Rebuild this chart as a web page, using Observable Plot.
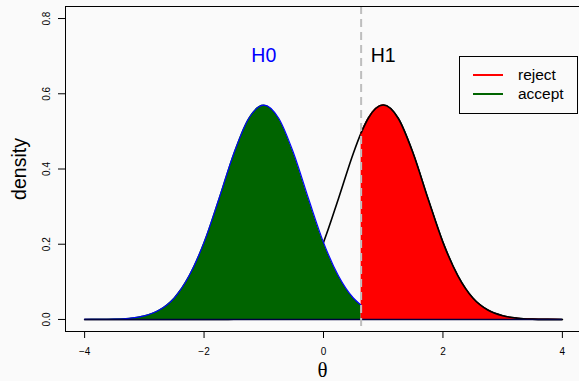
<!DOCTYPE html>
<html><head><meta charset="utf-8">
<script src="https://cdn.jsdelivr.net/npm/d3@7"></script>
<script src="https://cdn.jsdelivr.net/npm/@observablehq/plot@0.6"></script>
<style>
body{margin:0;background:#fafafa;}
#wrap{position:relative;width:579px;height:381px;overflow:hidden;font-family:"Liberation Sans",Arial,sans-serif;background:#fafafa;}
#legend{position:absolute;left:459px;top:56px;width:119px;height:58px;border:1px solid #000;box-sizing:border-box;background:#fafafa;}
.lg-line{position:absolute;left:13px;width:30px;height:2px;}
.lg-text{position:absolute;left:58px;font-size:15.5px;line-height:16px;color:#000;}
</style></head>
<body>
<div id="wrap">
  <div id="chart"></div>
  <div id="legend"></div>
</div>
<script>
const theta = [-4,-3.75,-3.5,-3.25,-3,-2.75,-2.5,-2.25,-2,-1.75,-1.5,-1.25,-1,-0.75,-0.5,-0.25,0,0.25,0.5,0.63,0.75,1,1.25,1.5,1.75,2,2.25,2.5,2.75,3,3.25,3.5,3.75,4];
const h0Density = [0.0001,0.0003,0.001,0.0033,0.0096,0.025,0.057,0.116,0.205,0.321,0.442,0.535,0.570,0.535,0.442,0.321,0.205,0.116,0.057,0.038,0.025,0.0096,0.0033,0.001,0.0003,0.0001,0,0,0,0,0,0,0,0];
const h1Density = [0,0,0,0,0,0,0,0,0.0001,0.0003,0.001,0.0033,0.0096,0.025,0.057,0.116,0.205,0.321,0.442,0.496,0.535,0.570,0.535,0.442,0.321,0.205,0.116,0.057,0.025,0.0096,0.0033,0.001,0.0003,0.0001];
const cutoff = 0.63;
const hypLabels = ["H0","H1"];
const hypMeans = [-1, 1];
const hypLabelY = 0.7;
const hypColors = ["blue","black"];
const xTicks = [-4,-2,0,2,4];
const yTicks = [0,0.2,0.4,0.6,0.8];
const legendLabels = ["reject","accept"];
const legendColors = ["red","#006400"];

const data = theta.map((t,i)=>({theta:t,h0:h0Density[i],h1:h1Density[i]}));
const accept = data.filter(d=>d.theta<=cutoff);
const reject = data.filter(d=>d.theta>=cutoff);
const hyps = hypLabels.map((l,i)=>({label:l,x:hypMeans[i],y:hypLabelY,color:hypColors[i]}));
const fmtX = d => d<0 ? "\u2212"+(-d) : String(d);

const plot = Plot.plot({
  width:579, height:381,
  marginLeft:65, marginTop:6, marginBottom:50, marginRight:-2,
  style:{background:"#fafafa", fontFamily:"'Liberation Sans', Arial, sans-serif", overflow:"hidden"},
  x:{domain:[-4.32,4.32]},
  y:{domain:[-0.032,0.832]},
  marks:[
    Plot.line(data,{x:"theta",y:"h1",stroke:"black",strokeWidth:1.6,curve:"monotone-x"}),
    Plot.areaY(accept,{x:"theta",y:"h0",fill:"#006400",curve:"monotone-x"}),
    Plot.areaY(reject,{x:"theta",y:"h1",fill:"red",curve:"monotone-x"}),
    Plot.line(accept,{x:"theta",y:"h0",stroke:"blue",strokeWidth:1.2,curve:"monotone-x"}),
    Plot.line(reject,{x:"theta",y:"h1",stroke:"black",strokeWidth:1.6,curve:"monotone-x"}),
    Plot.ruleY([0],{x1:d3.min(theta),x2:d3.max(theta),stroke:"#000040",strokeWidth:1.5}),
    Plot.ruleX([cutoff],{stroke:"#bebebe",strokeWidth:2,strokeDasharray:"8,5"}),
    Plot.text(hyps,{x:"x",y:"y",text:"label",fill:"color",fontSize:19.5,textAnchor:"middle",lineAnchor:"middle"}),
    Plot.frame({stroke:"black"}),
    Plot.axisX({ticks:xTicks,tickSize:7,tickPadding:9,tickFormat:fmtX,fontSize:10,label:null}),
    Plot.axisY({ticks:yTicks,tickSize:7,tickFormat:()=>"",label:null}),
    Plot.text(yTicks,{y:d=>d,frameAnchor:"left",dx:-18.5,rotate:-90,text:d3.format(".1f"),fontSize:10,textAnchor:"middle",lineAnchor:"middle"}),
    Plot.text(["density"],{frameAnchor:"left",dx:-45.5,rotate:-90,fontSize:19.5,textAnchor:"middle",lineAnchor:"middle"}),
    Plot.text(["\u03b8"],{frameAnchor:"bottom",dx:-1,dy:39,fontSize:21,fontFamily:"'Liberation Serif', serif",textAnchor:"middle",lineAnchor:"middle"})
  ]
});
document.getElementById("chart").appendChild(plot);

const lg = document.getElementById("legend");
legendLabels.forEach((l,i)=>{
  const ln = document.createElement("div");
  ln.className="lg-line"; ln.style.background=legendColors[i]; ln.style.top=(17+i*19)+"px";
  lg.appendChild(ln);
  const tx = document.createElement("div");
  tx.className="lg-text"; tx.textContent=l; tx.style.top=(10+i*19)+"px";
  lg.appendChild(tx);
});
</script>
</body></html>
